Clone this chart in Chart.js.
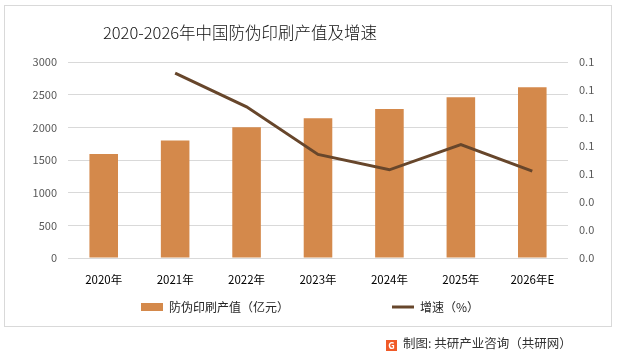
<!DOCTYPE html>
<html>
<head>
<meta charset="utf-8">
<script src="https://cdn.jsdelivr.net/npm/chart.js@4.4.1/dist/chart.umd.min.js"></script>
<style>
  body { margin: 0; background: #fff; }
  #wrap { position: relative; width: 620px; height: 358px; font-family: "Noto Sans CJK SC", sans-serif; }
  #frame { position: absolute; left: 4px; top: 5px; width: 606px; height: 320px; border: 1px solid #d9d9d9; }
  #title { position: absolute; left: 0; width: 480px; top: 20px; text-align: center; font-size: 16.5px; color: #111; font-weight: 300; }
  #foot { position: absolute; left: 386px; top: 333px; font-size: 12.5px; color: #333; white-space: nowrap; }
  #logo { display: inline-block; width: 11px; height: 11px; background: #f05a28; color: #fff; font-size: 9px; line-height: 11px; text-align: center; font-weight: bold; margin-right: 6px; vertical-align: -1px; }
  canvas { position: absolute; left: 0; top: 0; }
</style>
</head>
<body>
<div id="wrap">
  <div id="frame"></div>
  <canvas id="myChart" width="620" height="358"></canvas>
  <div id="title">2020-2026年中国防伪印刷产值及增速</div>
  <div id="foot"><span id="logo">G</span>制图: 共研产业咨询（共研网）</div>
</div>
<script>
var years = ['2020年', '2021年', '2022年', '2023年', '2024年', '2025年', '2026年E'];
var output = [1590, 1800, 2000, 2140, 2280, 2460, 2615];
var growth = [null, 0.132, 0.108, 0.074, 0.063, 0.081, 0.062];
var leftTicks = [0, 500, 1000, 1500, 2000, 2500, 3000];

var data = {
  labels: years,
  datasets: [{
    type: 'line',
    label: '增速（%）',
    data: growth,
    yAxisID: 'y1',
    borderColor: '#67462b',
    backgroundColor: '#67462b',
    borderWidth: 3,
    pointRadius: 0,
    tension: 0,
    pointStyle: 'line',
    order: 0
  }, {
    type: 'bar',
    label: '防伪印刷产值（亿元）',
    data: output,
    yAxisID: 'y',
    backgroundColor: '#d4894b',
    barPercentage: 0.4,
    categoryPercentage: 1,
    pointStyle: 'rect',
    order: 1
  }]
};

const config = {
  data: data,
  options: {
    responsive: false,
    animation: false,
    layout: { padding: { left: 0, right: 0, top: 62, bottom: 35 } },
    plugins: {
      title: { display: false },
      tooltip: { enabled: false },
      legend: {
        position: 'bottom',
        reverse: true,
        labels: {
          usePointStyle: true,
          pointStyleWidth: 22,
          boxHeight: 8,
          padding: 7,
          color: '#262626',
          font: { family: 'Noto Sans CJK SC', size: 12 },
          generateLabels: function(chart) {
            var items = Chart.defaults.plugins.legend.labels.generateLabels(chart);
            items.forEach(function(it) {
              if (it.datasetIndex === 1) it.text = it.text + '\u3000\u3000\u3000\u3000\u3000\u3000\u3000\u3000\u2002';
            });
            return items;
          }
        }
      }
    },
    scales: {
      x: {
        grid: { display: false },
        border: { display: false },
        ticks: { color: '#000', padding: 7, maxRotation: 0, font: { family: 'Noto Sans CJK SC', size: 11.5 } },
        afterFit: function(scale) { scale.height = 36; }
      },
      y: {
        position: 'left',
        min: 0,
        max: 3000,
        afterBuildTicks: function(scale) { scale.ticks = leftTicks.map(function(v) { return { value: v }; }); },
        grid: { color: '#d9d9d9', drawTicks: false },
        border: { display: false },
        ticks: {
          color: '#595959',
          padding: 11,
          font: { family: 'Noto Sans CJK SC', size: 11 },
          callback: function(v) { return String(v); }
        },
        afterFit: function(scale) { scale.width = 68; }
      },
      y1: {
        position: 'right',
        min: 0,
        max: 0.14,
        grid: { display: false, drawTicks: false },
        border: { display: false },
        ticks: {
          stepSize: 0.02,
          color: '#595959',
          padding: 11,
          font: { family: 'Noto Sans CJK SC', size: 11 },
          callback: function(v) { return Number(v).toFixed(1); }
        },
        afterFit: function(scale) { scale.width = 52; }
      }
    }
  }
};

var ctx = document.getElementById('myChart').getContext('2d');
var chart = new Chart(ctx, config);
</script>
</body>
</html>
